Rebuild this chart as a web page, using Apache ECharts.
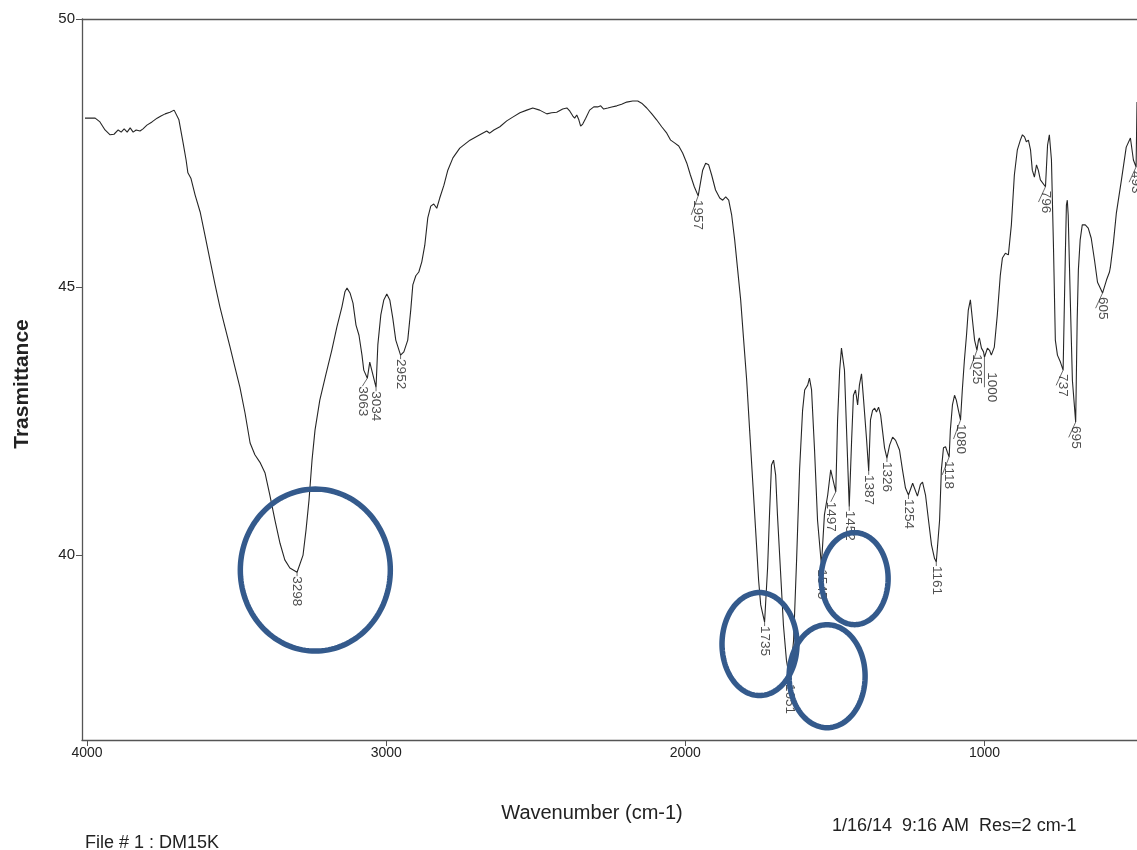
<!DOCTYPE html>
<html>
<head>
<meta charset="utf-8">
<script src="https://cdn.jsdelivr.net/npm/echarts@6/dist/echarts.min.js"></script>
<style>
  html, body { margin: 0; padding: 0; background: #ffffff; }
  #chart { width: 1137px; height: 850px; }
</style>
</head>
<body>
<div id="chart"></div>
<script>
// IR spectrum of sample DM15K: wavenumber (cm-1) and transmittance
const wavenumber = [
  4007, 3973, 3957, 3940, 3923, 3910, 3896, 3886, 3876, 3866, 3856, 3846, 3836, 3823, 3813, 3800,
  3783, 3766, 3753, 3739, 3723, 3709, 3703, 3693, 3679, 3669, 3663, 3653, 3639, 3622, 3606, 3589,
  3572, 3556, 3539, 3522, 3506, 3489, 3472, 3455, 3439, 3422, 3405, 3389, 3372, 3355, 3339, 3322,
  3298, 3278, 3268, 3258, 3248, 3238, 3222, 3202, 3182, 3165, 3148, 3138, 3131, 3121, 3111, 3101,
  3091, 3081, 3075, 3063, 3055, 3034, 3028, 3018, 3008, 2998, 2988, 2978, 2968, 2952, 2941, 2928,
  2918, 2911, 2901, 2891, 2881, 2871, 2861, 2851, 2841, 2831, 2821, 2807, 2794, 2777, 2754, 2720,
  2687, 2664, 2654, 2640, 2620, 2597, 2577, 2553, 2530, 2510, 2487, 2463, 2447, 2430, 2410, 2396,
  2386, 2376, 2370, 2363, 2356, 2350, 2343, 2333, 2320, 2306, 2293, 2283, 2273, 2259, 2246, 2229,
  2213, 2196, 2176, 2159, 2146, 2129, 2112, 2096, 2079, 2062, 2049, 2036, 2022, 2009, 1995, 1983,
  1970, 1957, 1942, 1932, 1922, 1912, 1899, 1885, 1875, 1865, 1855, 1845, 1835, 1825, 1815, 1805,
  1795, 1785, 1775, 1765, 1755, 1748, 1735, 1725, 1718, 1712, 1705, 1698, 1692, 1682, 1672, 1662,
  1651, 1638, 1628, 1618, 1608, 1601, 1591, 1585, 1578, 1568, 1558, 1545, 1535, 1524, 1514, 1497,
  1491, 1484, 1478, 1474, 1468, 1461, 1452, 1444, 1438, 1431, 1424, 1418, 1411, 1404, 1394, 1387,
  1381, 1374, 1367, 1361, 1354, 1347, 1341, 1334, 1326, 1317, 1307, 1297, 1284, 1274, 1264, 1254,
  1240, 1234, 1224, 1214, 1207, 1197, 1187, 1177, 1167, 1161, 1150, 1144, 1137, 1130, 1124, 1118,
  1114, 1107, 1100, 1094, 1087, 1080, 1074, 1067, 1060, 1054, 1047, 1040, 1033, 1025, 1020, 1017,
  1010, 1003, 1000, 990, 983, 977, 967, 957, 947, 940, 930, 920, 910, 900, 890, 880,
  873, 866, 860, 853, 846, 840, 833, 826, 820, 813, 796, 789, 783, 776, 769, 763,
  756, 746, 737, 730, 726, 723, 720, 713, 706, 695, 690, 686, 680, 673, 663, 653,
  643, 632, 622, 605, 592, 582, 579, 569, 559, 542, 526, 512, 502, 500, 493, 490
];
const transmittance = [
  48.15, 48.15, 48.08, 47.93, 47.84, 47.85, 47.93, 47.89, 47.95, 47.89, 47.97, 47.89, 47.93, 47.91, 47.95, 48.02,
  48.08, 48.15, 48.19, 48.23, 48.26, 48.30, 48.28, 48.12, 47.69, 47.37, 47.13, 47.03, 46.72, 46.40, 45.97, 45.50,
  45.04, 44.63, 44.25, 43.88, 43.51, 43.13, 42.65, 42.09, 41.87, 41.73, 41.53, 41.12, 40.65, 40.22, 39.91, 39.76,
  39.68, 40.00, 40.47, 41.03, 41.77, 42.33, 42.89, 43.36, 43.82, 44.25, 44.63, 44.91, 44.98, 44.89, 44.70, 44.29,
  44.10, 43.73, 43.45, 43.30, 43.60, 43.13, 43.92, 44.48, 44.76, 44.87, 44.76, 44.42, 44.01, 43.73, 43.79, 44.01,
  44.57, 45.04, 45.21, 45.28, 45.47, 45.78, 46.29, 46.51, 46.55, 46.47, 46.66, 46.90, 47.18, 47.41, 47.59, 47.74,
  47.84, 47.91, 47.87, 47.93, 47.99, 48.10, 48.17, 48.25, 48.30, 48.34, 48.30, 48.23, 48.25, 48.26, 48.32, 48.34,
  48.28, 48.19, 48.15, 48.21, 48.12, 48.00, 48.04, 48.15, 48.30, 48.36, 48.36, 48.38, 48.32, 48.34, 48.36, 48.38,
  48.41, 48.45, 48.47, 48.47, 48.43, 48.34, 48.23, 48.12, 47.99, 47.87, 47.74, 47.69, 47.63, 47.50, 47.31, 47.09,
  46.87, 46.70, 47.18, 47.31, 47.28, 47.09, 46.81, 46.66, 46.62, 46.68, 46.62, 46.34, 45.88, 45.32, 44.76, 44.01,
  43.27, 42.33, 41.40, 40.47, 39.53, 39.07, 38.75, 39.76, 40.84, 41.68, 41.77, 41.49, 40.75, 39.72, 38.69, 38.04,
  37.67, 38.41, 39.91, 41.59, 42.70, 43.08, 43.17, 43.30, 43.08, 41.96, 40.65, 39.81, 40.75, 41.12, 41.59, 41.18,
  42.52, 43.45, 43.86, 43.88, 43.45, 42.33, 40.90, 42.15, 42.98, 43.08, 42.80, 43.17, 43.38, 42.89, 42.15, 41.57,
  42.52, 42.70, 42.74, 42.67, 42.76, 42.61, 42.33, 42.00, 41.81, 42.05, 42.20, 42.14, 41.96, 41.59, 41.25, 41.12,
  41.34, 41.36, 41.10, 41.32, 41.36, 41.12, 40.65, 40.19, 39.94, 39.87, 40.65, 41.59, 42.00, 42.02, 41.92, 41.83,
  42.33, 42.80, 42.98, 42.89, 42.70, 42.52, 43.08, 43.64, 44.10, 44.57, 44.76, 44.38, 44.01, 43.82, 44.01, 44.05,
  43.86, 43.79, 43.69, 43.86, 43.82, 43.73, 43.88, 44.48, 45.22, 45.54, 45.63, 45.60, 46.16, 47.09, 47.56, 47.74,
  47.84, 47.80, 47.71, 47.74, 47.56, 47.18, 47.05, 47.28, 47.18, 47.00, 46.87, 47.65, 47.84, 47.37, 45.69, 44.01,
  43.73, 43.60, 43.45, 45.50, 46.53, 46.62, 46.34, 44.76, 43.26, 42.48, 44.38, 45.32, 45.88, 46.16, 46.16, 46.10,
  45.91, 45.50, 45.09, 44.89, 45.13, 45.28, 45.37, 45.82, 46.38, 47.00, 47.61, 47.78, 47.37, 47.39, 47.24, 48.45
];

// Labelled absorption minima (cm-1)
const peakLabels = [
  3298, 3063, 3034, 2952, 1957, 1735, 1651, 1545, 1497, 1452, 1387, 1326, 1254, 1161,
  1118, 1080, 1025, 1000, 796, 737, 695, 605, 493
];

// Axis tick values
const xTicks = [4000, 3000, 2000, 1000];
const yTicks = [40, 45, 50];

// Bands circled by hand on the printout (centre: wavenumber, transmittance)
const circledBands = [
  [3237, 39.72],
  [1752, 38.34],
  [1526, 37.74],
  [1434, 39.56]
];

// Drawing settings (kept apart from the data)
const FONT = '"Liberation Sans", Arial, Helvetica, sans-serif';
const TEXT = '#222222';
const AXIS = '#555555';
const RING = '#345a8c';
const ringRadiiPx = [[75, 81], [37.5, 51.5], [38, 51.5], [33.5, 46]];
// screen-space nudges [right, down] for crowded peak labels
const labelShiftPx = { 3063: [-5, 4], 1497: [-5, 6], 1000: [7, 11] };

const spectrum = wavenumber.map((w, i) => [w, transmittance[i]]);
const peakPoints = peakLabels.map(w => [w, transmittance[wavenumber.indexOf(w)]]);

const chart = echarts.init(document.getElementById('chart'), null, { renderer: 'canvas' });

const axisLineStyle = { color: AXIS, width: 1.3 };
const plain = v => String(v);

chart.setOption({
  animation: false,
  backgroundColor: '#ffffff',
  grid: { left: 82, right: 0, top: 19, bottom: 110, containLabel: false },
  xAxis: [
    {
      type: 'value', inverse: true, min: 490, max: 4017,
      axisLine: { show: true, lineStyle: axisLineStyle },
      axisTick: { show: true, customValues: xTicks, length: 6, lineStyle: { color: AXIS, width: 1 } },
      axisLabel: { customValues: xTicks, formatter: plain, margin: 6, fontSize: 14, color: TEXT, fontFamily: FONT },
      splitLine: { show: false }
    },
    {
      type: 'value', position: 'top', inverse: true, min: 490, max: 4017,
      axisLine: { show: true, lineStyle: axisLineStyle },
      axisTick: { show: false }, axisLabel: { show: false }, splitLine: { show: false }
    }
  ],
  yAxis: {
    type: 'value', min: 36.55, max: 50,
    axisLine: { show: true, lineStyle: axisLineStyle },
    axisTick: { show: true, customValues: yTicks, length: 6, lineStyle: { color: AXIS, width: 1 } },
    axisLabel: { customValues: yTicks, formatter: plain, margin: 7, fontSize: 15, color: TEXT, fontFamily: FONT },
    splitLine: { show: false }
  },
  series: [
    {
      type: 'line', data: spectrum, xAxisIndex: 0,
      showSymbol: false, silent: true,
      lineStyle: { color: '#262626', width: 1.1 }
    },
    {
      type: 'scatter', data: peakPoints, xAxisIndex: 0,
      symbolSize: 0, silent: true,
      label: {
        show: true,
        formatter: p => String(p.value[0]),
        position: 'bottom', distance: 4,
        rotate: -90, align: 'left', verticalAlign: 'middle',
        fontSize: 13.5, color: TEXT, fontFamily: FONT
      },
      labelLine: { show: true, lineStyle: { color: '#444', width: 0.8 } },
      labelLayout: p => {
        const s = labelShiftPx[peakLabels[p.dataIndex]];
        // label frame is turned a quarter clockwise: its x runs down the page, its y runs left
        return s ? { dx: s[1], dy: -s[0] } : {};
      }
    }
  ]
});

// Hand-drawn rings around selected bands, plus page texts
function ringPoints(cx, cy, rx, ry) {
  const pts = [];
  for (let i = 0; i < 144; i++) {
    const a = (i / 144) * Math.PI * 2;
    pts.push([cx + rx * Math.cos(a), cy + ry * Math.sin(a)]);
  }
  return pts;
}

const rings = circledBands.map((c, i) => {
  const p = chart.convertToPixel({ xAxisIndex: 0, yAxisIndex: 0 }, c);
  return {
    type: 'polygon', z: 100, silent: true,
    shape: { points: ringPoints(p[0], p[1], ringRadiiPx[i][0], ringRadiiPx[i][1]) },
    style: { fill: 'none', stroke: RING, lineWidth: 5.5 }
  };
});

chart.setOption({
  graphic: rings.concat([
    {
      type: 'text', x: 22, y: 384, rotation: Math.PI / 2, silent: true,
      style: { text: 'Trasmittance', fontSize: 21, fontWeight: 'bold', fontFamily: FONT,
               fill: '#222', align: 'center', verticalAlign: 'middle' }
    },
    {
      type: 'text', x: 592, y: 813, silent: true,
      style: { text: 'Wavenumber (cm-1)', fontSize: 20, fontFamily: FONT,
               fill: '#222', align: 'center', verticalAlign: 'middle' }
    },
    {
      type: 'text', x: 85, y: 843, silent: true,
      style: { text: 'File # 1 : DM15K', fontSize: 18, fontFamily: FONT,
               fill: '#222', align: 'left', verticalAlign: 'middle' }
    },
    {
      type: 'text', x: 832, y: 826, silent: true,
      style: { text: '1/16/14  9:16 AM  Res=2 cm-1', fontSize: 18, fontFamily: FONT,
               fill: '#222', align: 'left', verticalAlign: 'middle' }
    }
  ])
});
</script>
</body>
</html>
